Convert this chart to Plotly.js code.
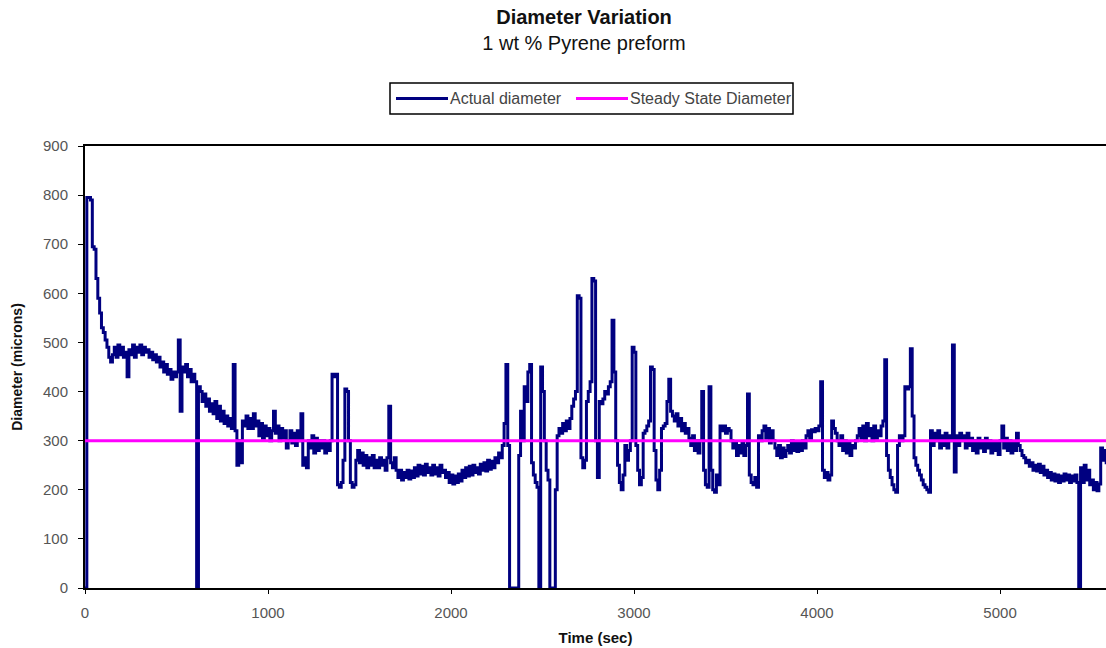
<!DOCTYPE html>
<html>
<head>
<meta charset="utf-8">
<script src="https://cdn.plot.ly/plotly-3.0.1.min.js"></script>
<style>
  html, body { margin: 0; padding: 0; background: #fff; }
  #chart { width: 1106px; height: 648px; }
</style>
</head>
<body>
<div id="chart"></div>
<script>
// Sampling interval of the recorded diameter (seconds)
const sampleIntervalSec = 10;

// Actual diameter (microns), one value every 10 s, rows of 100 s
const actualDiameter = [
  0, 795, 795, 790, 695, 690, 630, 590, 560, 530,        // 0
  520, 505, 490, 470, 460, 475, 490, 470, 495, 475,      // 100
  490, 470, 480, 430, 485, 475, 495, 470, 490, 480,      // 200
  495, 475, 490, 480, 485, 470, 480, 465, 475, 460,      // 300
  470, 450, 460, 440, 455, 435, 445, 425, 440, 430,      // 400
  440, 505, 360, 450, 440, 455, 430, 445, 420, 435,      // 500
  420, 0, 410, 400, 380, 395, 370, 385, 360, 375,        // 600
  355, 380, 345, 370, 340, 360, 335, 350, 330, 345,      // 700
  325, 455, 320, 250, 300, 255, 340, 330, 350, 325,      // 800
  345, 325, 355, 330, 340, 310, 335, 305, 330, 310,      // 900
  325, 300, 320, 360, 315, 330, 300, 325, 305, 320,      // 1000
  285, 300, 320, 295, 315, 290, 320, 300, 355, 250,      // 1100
  265, 245, 300, 285, 310, 275, 305, 280, 300, 285,      // 1200
  300, 275, 295, 280, 300, 435, 430, 435, 210, 205,      // 1300
  215, 260, 405, 400, 300, 215, 205, 210, 260, 280,      // 1400
  255, 275, 250, 270, 245, 265, 250, 270, 245, 260,      // 1500
  245, 265, 250, 260, 240, 265, 370, 255, 245, 265,      // 1600
  240, 225, 240, 220, 235, 225, 240, 222, 238, 225,      // 1700
  245, 228, 250, 232, 248, 230, 252, 235, 245, 230,      // 1800
  250, 232, 245, 228, 250, 235, 240, 225, 235, 215,      // 1900
  230, 212, 228, 215, 232, 218, 240, 225, 245, 228,      // 2000
  248, 230, 250, 235, 245, 232, 252, 240, 255, 238,      // 2100
  260, 242, 258, 245, 265, 255, 275, 265, 290, 335,      // 2200
  455, 290, 0, 0, 0, 0, 0, 270, 360, 300,                // 2300
  410, 380, 440, 455, 255, 230, 215, 205, 0, 450,        // 2400
  400, 300, 240, 220, 0, 0, 0, 200, 310, 325,            // 2500
  315, 335, 320, 340, 325, 345, 370, 385, 400, 595,      // 2600
  590, 265, 245, 260, 380, 400, 420, 630, 625, 300,      // 2700
  225, 380, 375, 385, 400, 395, 410, 420, 545, 440,      // 2800
  300, 250, 215, 200, 230, 290, 260, 280, 300, 490,      // 2900
  480, 290, 240, 210, 225, 315, 320, 330, 340, 450,      // 3000
  445, 280, 220, 200, 240, 325, 330, 335, 380, 425,      // 3100
  360, 350, 340, 355, 330, 345, 320, 335, 315, 325,      // 3200
  305, 290, 310, 280, 300, 275, 300, 400, 240, 210,      // 3300
  205, 410, 240, 200, 195, 230, 210, 330, 320, 330,      // 3400
  315, 325, 320, 300, 285, 295, 270, 290, 275, 295,      // 3500
  270, 290, 395, 230, 215, 210, 225, 205, 310, 300,      // 3600
  320, 330, 305, 325, 295, 320, 300, 285, 270, 290,      // 3700
  265, 285, 268, 280, 290, 275, 300, 280, 298, 278,      // 3800
  295, 280, 300, 285, 310, 320, 305, 322, 318, 325,      // 3900
  320, 330, 420, 240, 225, 235, 220, 230, 340, 325,      // 4000
  315, 300, 290, 310, 280, 300, 275, 295, 270, 290,      // 4100
  285, 300, 310, 325, 305, 330, 300, 335, 310, 325,      // 4200
  300, 330, 305, 320, 310, 330, 340, 465, 270, 240,      // 4300
  225, 210, 200, 195, 290, 310, 300, 310, 410, 405,      // 4400
  410, 487, 350, 265, 250, 240, 230, 220, 210, 205,      // 4500
  200, 195, 320, 290, 315, 300, 320, 285, 310, 290,      // 4600
  315, 285, 310, 300, 495, 236, 310, 290, 315, 300,      // 4700
  310, 285, 315, 290, 305, 280, 300, 275, 305, 285,      // 4800
  300, 278, 305, 285, 300, 275, 298, 280, 295, 272,      // 4900
  300, 330, 285, 305, 280, 300, 275, 295, 280, 315,      // 5000
  290, 280, 270, 265, 255, 260, 248, 255, 240, 250,      // 5100
  238, 252, 235, 248, 230, 240, 225, 235, 220, 232,      // 5200
  218, 230, 215, 228, 218, 232, 220, 230, 215, 228,      // 5300
  218, 230, 215, 0, 245, 215, 250, 220, 240, 210,        // 5400
  220, 200, 215, 198, 212, 285, 260, 280, 255, 265       // 5500
];
const actualTime = actualDiameter.map((_, i) => i * sampleIntervalSec);

// Steady state diameter (microns)
const steadyTime = [0, 5600];
const steadyDiameter = [300, 300];

// Axis ticks
const xTicks = [0, 1000, 2000, 3000, 4000, 5000];
const yTicks = [0, 100, 200, 300, 400, 500, 600, 700, 800, 900];

// Series names / colours (used by traces and by the legend box)
const seriesNames = ['Actual diameter', 'Steady State Diameter'];
const seriesColors = ['#000080', '#FF00FF'];

const FONT = 'Liberation Sans, Arial, Helvetica, sans-serif';

// Plot-area geometry (pixels) used to place the boxed legend above the plot
const PLOT_L = 85, PLOT_W = 1021, PLOT_B = 588, PLOT_H = 442;
const px = (x) => (x - PLOT_L) / PLOT_W;
const py = (y) => (PLOT_B - y) / PLOT_H;

const traces = [
  {
    x: actualTime, y: actualDiameter, type: 'scatter', mode: 'lines',
    name: seriesNames[0],
    line: { color: seriesColors[0], width: 3, shape: 'hv' }
  },
  {
    x: steadyTime, y: steadyDiameter, type: 'scatter', mode: 'lines',
    name: seriesNames[1],
    line: { color: seriesColors[1], width: 3 }
  }
];

const legendY = 98.5;
const shapes = [
  { type: 'rect', xref: 'paper', yref: 'paper', x0: px(390), x1: px(793), y0: py(114), y1: py(83),
    line: { color: '#000', width: 1.5 }, fillcolor: '#fff', layer: 'above' },
  { type: 'line', xref: 'paper', yref: 'paper', x0: px(396), x1: px(448), y0: py(legendY), y1: py(legendY),
    line: { color: seriesColors[0], width: 3 }, layer: 'above' },
  { type: 'line', xref: 'paper', yref: 'paper', x0: px(576), x1: px(628), y0: py(legendY), y1: py(legendY),
    line: { color: seriesColors[1], width: 3 }, layer: 'above' }
];
const annotations = [
  { xref: 'paper', yref: 'paper', x: px(448), y: py(legendY), xanchor: 'left', yanchor: 'middle',
    text: seriesNames[0], showarrow: false, font: { family: FONT, size: 16, color: '#444' } },
  { xref: 'paper', yref: 'paper', x: px(628), y: py(legendY), xanchor: 'left', yanchor: 'middle',
    text: seriesNames[1], showarrow: false, font: { family: FONT, size: 16, color: '#444' } }
];

const layout = {
  width: 1106, height: 648,
  margin: { l: 85, r: 0, t: 146, b: 60, pad: 0 },
  paper_bgcolor: '#ffffff', plot_bgcolor: '#ffffff',
  font: { family: FONT, color: '#333' },
  title: {
    text: '<b>Diameter Variation</b><br>1 wt % Pyrene preform',
    x: 584 / 1106, xref: 'container', xanchor: 'center',
    y: 1 - 24 / 648, yref: 'container', yanchor: 'top',
    font: { family: FONT, size: 20, color: '#111' }
  },
  showlegend: false,
  shapes: shapes,
  annotations: annotations,
  xaxis: {
    range: [0, 5579], tickvals: xTicks, ticktext: xTicks.map(String),
    ticks: 'outside', ticklen: 4, tickwidth: 1, tickcolor: '#000',
    ticklabelstandoff: 6,
    showline: true, linecolor: '#000', linewidth: 2, mirror: true,
    showgrid: false, zeroline: false,
    tickfont: { family: FONT, size: 15, color: '#555' },
    title: { text: '<b>Time (sec)</b>', font: { family: FONT, size: 15, color: '#111' }, standoff: 12 }
  },
  yaxis: {
    range: [0, 900], tickvals: yTicks, ticktext: yTicks.map(String),
    ticks: 'outside', ticklen: 5, tickwidth: 1, tickcolor: '#000',
    ticklabelstandoff: 7,
    showline: true, linecolor: '#000', linewidth: 2, mirror: false,
    showgrid: false, zeroline: false,
    tickfont: { family: FONT, size: 15, color: '#555' },
    title: { text: '<b>Diameter (microns)</b>', font: { family: FONT, size: 14, color: '#111' }, standoff: 17 }
  }
};

Plotly.newPlot('chart', traces, layout, { displayModeBar: false, staticPlot: true });
</script>
</body>
</html>
